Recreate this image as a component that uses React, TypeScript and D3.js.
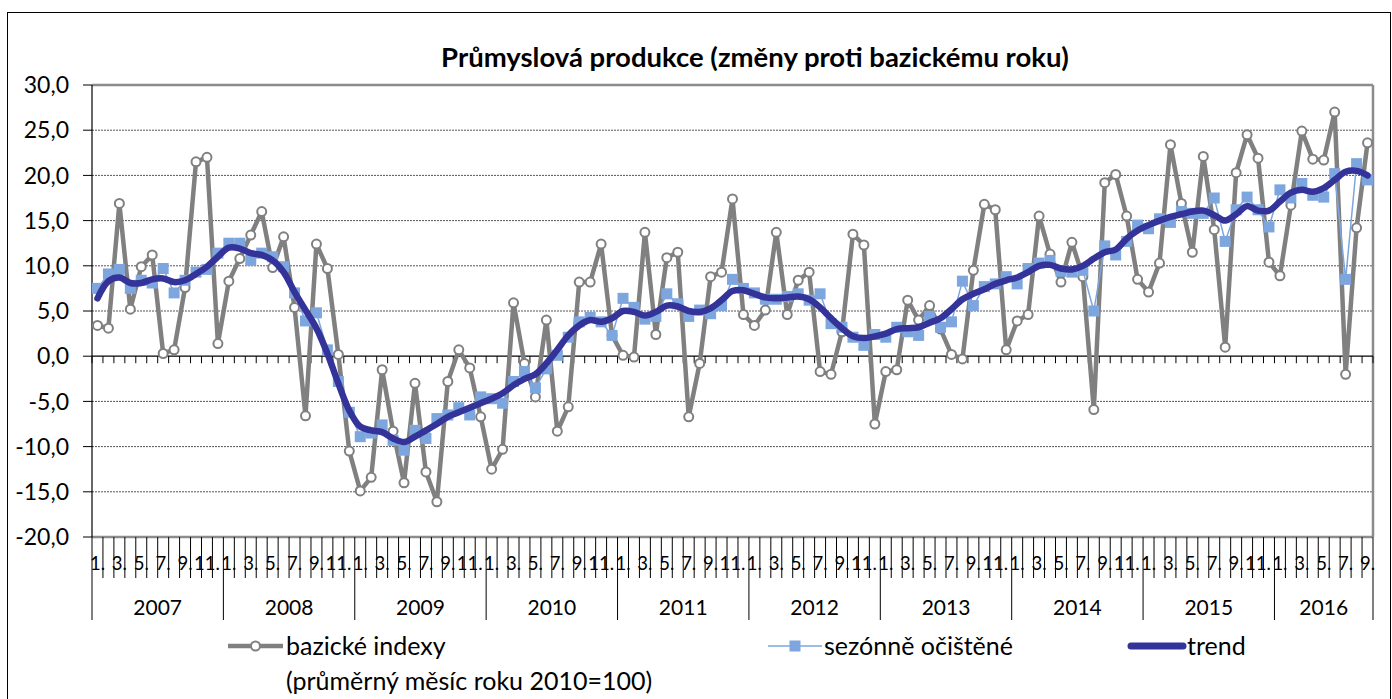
import * as d3 from "d3";
import React from "react";

// months 2007-01 .. 2016-09
const years = ["2007", "2008", "2009", "2010", "2011", "2012", "2013", "2014", "2015", "2016"];
const monthLabels = ["1.", "", "3.", "", "5.", "", "7.", "", "9.", "", "11.", ""];
const yTicks = [-20, -15, -10, -5, 0, 5, 10, 15, 20, 25, 30];

const bazicke = [
  3.4, 3.1, 16.9, 5.2, 9.9, 11.2, 0.3, 0.7, 7.6, 21.5, 22.0, 1.4,
  8.3, 10.8, 13.4, 16.0, 9.8, 13.2, 5.4, -6.6, 12.4, 9.7, 0.2, -10.5,
  -14.9, -13.4, -1.5, -8.3, -14.0, -3.0, -12.8, -16.1, -2.8, 0.7, -1.3, -6.7,
  -12.5, -10.3, 5.9, -0.8, -4.5, 4.0, -8.3, -5.6, 8.2, 8.2, 12.4, 2.3,
  0.1, -0.1, 13.7, 2.4, 10.9, 11.5, -6.7, -0.8, 8.8, 9.3, 17.4, 4.6,
  3.4, 5.1, 13.7, 4.6, 8.4, 9.3, -1.7, -2.0, 2.7, 13.5, 12.3, -7.5,
  -1.7, -1.5, 6.2, 4.0, 5.6, 3.0, 0.2, -0.3, 9.5, 16.8, 16.2, 0.7,
  3.9, 4.6, 15.5, 11.3, 8.2, 12.6, 8.8, -5.9, 19.2, 20.1, 15.5, 8.5,
  7.1, 10.3, 23.4, 16.9, 11.5, 22.1, 14.0, 1.0, 20.3, 24.5, 21.9, 10.4,
  8.9, 16.7, 24.9, 21.8, 21.7, 27.0, -2.0, 14.2, 23.6,
];

const sezonne = [
  7.5, 9.1, 9.6, 7.5, 8.4, 8.1, 9.7, 7.0, 8.4, 9.3, 9.6, 11.4,
  12.5, 12.5, 10.6, 11.4, 11.0, 9.9, 7.0, 3.9, 4.8, 0.7, -2.8, -6.2,
  -8.9, -8.5, -7.6, -9.3, -10.4, -8.2, -9.1, -6.9, -6.5, -5.7, -6.5, -4.5,
  -4.7, -5.2, -2.8, -1.7, -3.5, -1.4, 0.1, 2.1, 3.8, 4.3, 3.8, 2.3,
  6.4, 5.4, 4.1, 4.4, 6.9, 5.8, 4.4, 5.1, 4.7, 5.6, 8.5, 7.5,
  7.0, 6.3, 6.3, 6.6, 6.9, 6.2, 6.9, 3.6, 3.2, 2.1, 1.2, 2.4,
  2.1, 3.2, 2.7, 2.3, 4.4, 3.2, 3.8, 8.3, 5.6, 7.7, 8.0, 8.8,
  8.0, 9.7, 10.3, 10.6, 9.4, 9.3, 9.5, 5.0, 12.2, 11.2, 12.7, 14.5,
  14.1, 15.2, 14.8, 16.0, 15.8, 15.8, 17.5, 12.7, 16.2, 17.6, 16.2, 14.3,
  18.4, 17.5, 19.1, 17.8, 17.6, 20.2, 8.5, 21.3, 19.5,
];

const trend = [
  6.4, 8.3, 8.7, 8.1, 8.1, 8.5, 8.6, 8.2, 8.4, 9.1, 9.9, 11.0,
  12.0, 11.9, 11.4, 11.2, 10.6, 9.3, 7.1, 5.1, 3.1, 0.3, -3.0, -6.0,
  -7.8, -8.2, -8.4, -9.1, -9.5, -8.9, -8.2, -7.5, -6.7, -6.2, -5.7, -5.2,
  -4.7, -4.1, -3.2, -2.5, -2.0, -0.8, 0.7, 2.3, 3.4, 4.0, 3.8, 4.2,
  5.0, 4.9, 4.5, 4.9, 5.6, 5.5, 5.0, 4.9, 5.3, 6.2, 7.2, 7.3,
  6.9, 6.5, 6.4, 6.5, 6.6, 6.3, 5.4, 4.2, 3.1, 2.2, 2.0, 2.2,
  2.5, 3.0, 3.1, 3.2, 3.7, 4.2, 5.2, 6.3, 6.9, 7.4, 8.0, 8.4,
  8.7, 9.3, 10.0, 10.1, 9.7, 9.6, 10.0, 10.8, 11.5, 11.8, 13.0, 13.9,
  14.5, 15.0, 15.4, 15.7, 16.0, 16.1, 15.6, 15.0, 15.7, 16.6, 16.1, 16.1,
  17.1, 18.1, 18.4, 18.2, 18.6, 19.5, 20.4, 20.5, 20.0,
];

const W = 1392;
const H = 699;
const FONT = "Lato, 'Open Sans', sans-serif";
const GRAY = "#808080";
const BLUE = "#7EA6DE";
const NAVY = "#333399";

export default function App() {
  const n = bazicke.length;
  const left = 92;
  const right = 1373;
  const top = 85;
  const bottom = 537;

  const x = d3.scaleBand<number>().domain(d3.range(n)).range([left, right]);
  const bw = x.bandwidth();
  const cx = (i: number) => (x(i) as number) + bw / 2;
  const y = d3.scaleLinear().domain([-20, 30]).range([bottom, top]);

  const straight = d3.line<number>().x((_, i) => cx(i)).y((d) => y(d));
  const smooth = d3
    .line<number>()
    .x((_, i) => cx(i))
    .y((d) => y(d))
    .curve(d3.curveCatmullRom.alpha(0.5));

  const fmt = (v: number) => v.toFixed(1).replace(".", ",");
  const boundaries = d3.range(n + 1).map((i) => (i < n ? (x(i) as number) : right));
  const yearStarts = years.map((_, k) => k * 12);

  return (
    <div style={{ position: "absolute", left: 0, top: 0 }}>
      <svg width={W} height={H} style={{ display: "block", fontFamily: FONT }}>
        <rect x={0} y={0} width={W} height={H} fill="#fff" />
        <rect x={7.5} y={12.5} width={1383} height={720} fill="none" stroke="#000" strokeWidth={1} />

        <text x={755} y={67} textAnchor="middle" fontWeight="bold" fontSize={27.5} fill="#000">
          Průmyslová produkce (změny proti bazickému roku)
        </text>

        {/* gridlines */}
        {yTicks
          .filter((t) => t > -20 && t < 30 && t !== 0)
          .map((t) => (
            <line key={t} x1={left} x2={right} y1={y(t)} y2={y(t)} stroke="#555" strokeWidth={1} strokeDasharray="2 1" />
          ))}

        {/* plot frame */}
        <line x1={left} x2={right} y1={top} y2={top} stroke="#8c8c8c" strokeWidth={2.5} />
        <line x1={right} x2={right} y1={top} y2={bottom} stroke="#8c8c8c" strokeWidth={2.5} />
        <line x1={left} x2={right} y1={bottom} y2={bottom} stroke="#8c8c8c" strokeWidth={2.5} />

        {/* y axis */}
        <line x1={left} x2={left} y1={top} y2={bottom} stroke="#000" strokeWidth={1.2} />
        {yTicks.map((t) => (
          <g key={t}>
            <line x1={left - 9} x2={left} y1={y(t)} y2={y(t)} stroke="#000" strokeWidth={1} />
            <text x={69} y={y(t)} dy="0.36em" textAnchor="end" fontSize={23} fill="#000">
              {fmt(t)}
            </text>
          </g>
        ))}

        {/* zero line with month ticks */}
        <line x1={left} x2={right} y1={y(0)} y2={y(0)} stroke="#000" strokeWidth={1.2} />
        {boundaries.map((bx, i) => (
          <line key={"zt" + i} x1={bx} x2={bx} y1={y(0)} y2={y(0) + 7} stroke="#000" strokeWidth={1} />
        ))}

        {/* category axis */}
        {boundaries.map((bx, i) => (
          <line
            key={"ct" + i}
            x1={bx}
            x2={bx}
            y1={bottom}
            y2={i % 12 === 0 || i === n ? 620 : 578}
            stroke="#000"
            strokeWidth={1}
          />
        ))}
        {d3.range(n).map((i) =>
          monthLabels[i % 12] ? (
            <text key={"ml" + i} x={cx(i)} y={570} textAnchor="middle" fontSize={18.5} fill="#000">
              {monthLabels[i % 12]}
            </text>
          ) : null
        )}
        {yearStarts.map((s, k) => {
          const x0 = x(s) as number;
          const x1 = s + 12 < n ? (x(s + 12) as number) : right;
          return (
            <text key={"yl" + k} x={(x0 + x1) / 2} y={615} textAnchor="middle" fontSize={21} fill="#000">
              {years[k]}
            </text>
          );
        })}

        {/* bazicke indexy */}
        <path d={straight(bazicke) ?? ""} fill="none" stroke={GRAY} strokeWidth={4.5} strokeLinejoin="round" />
        {bazicke.map((v, i) => (
          <circle key={"b" + i} cx={cx(i)} cy={y(v)} r={4.5} fill="#fff" stroke={GRAY} strokeWidth={2} />
        ))}

        {/* sezonne ocistene */}
        <path d={straight(sezonne) ?? ""} fill="none" stroke={BLUE} strokeWidth={1.5} />
        {sezonne.map((v, i) => (
          <rect key={"s" + i} x={cx(i) - 5.5} y={y(v) - 5.5} width={11} height={11} fill={BLUE} />
        ))}

        {/* trend */}
        <path d={smooth(trend) ?? ""} fill="none" stroke={NAVY} strokeWidth={6.5} strokeLinecap="round" strokeLinejoin="round" />

        {/* legend */}
        <line x1={228} x2={283} y1={646} y2={646} stroke={GRAY} strokeWidth={4.5} />
        <circle cx={255.5} cy={646} r={4.5} fill="#fff" stroke={GRAY} strokeWidth={2} />
        <text x={286} y={655} fontSize={25} fill="#000">bazické indexy</text>
        <text x={286} y={690} fontSize={25} fill="#000">(průměrný měsíc roku 2010=100)</text>

        <line x1={768} x2={822} y1={646} y2={646} stroke={BLUE} strokeWidth={1.5} />
        <rect x={789.5} y={640.5} width={11} height={11} fill={BLUE} />
        <text x={824} y={655} fontSize={25} fill="#000">sezónně očištěné</text>

        <line x1={1131} x2={1183} y1={646} y2={646} stroke={NAVY} strokeWidth={7} strokeLinecap="round" />
        <text x={1187} y={655} fontSize={25} fill="#000">trend</text>
      </svg>
    </div>
  );
}
